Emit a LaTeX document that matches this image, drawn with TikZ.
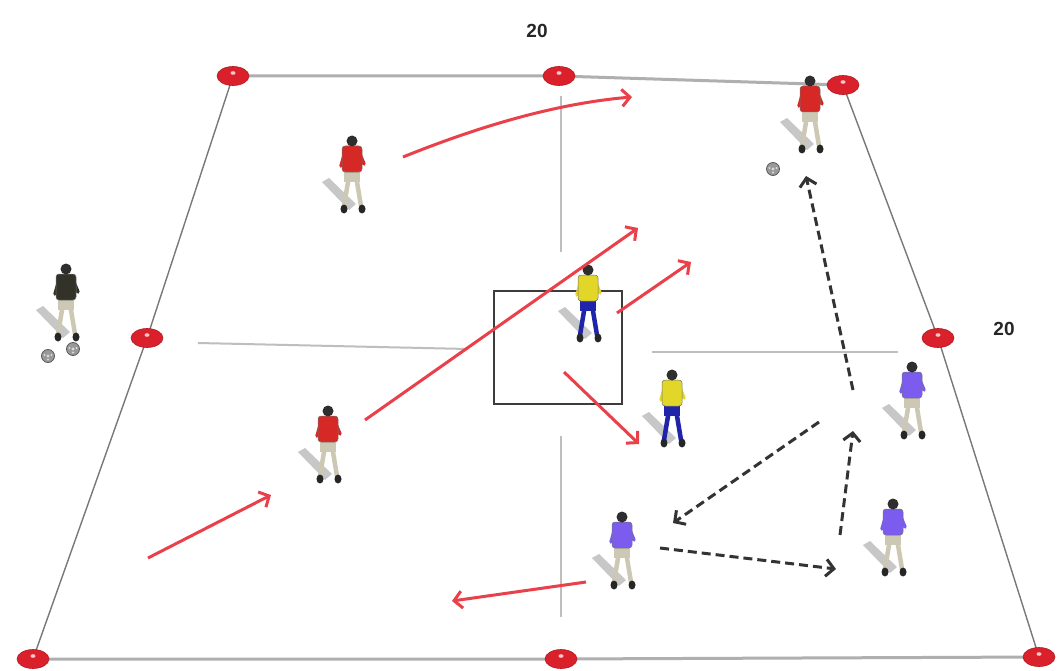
\documentclass[tikz,border=0pt]{standalone}
\usepackage{fontspec}
\setmainfont{Liberation Sans}
\usetikzlibrary{arrows.meta,shapes.geometric}
\definecolor{conered}{RGB}{218,32,42}
\definecolor{arrowred}{RGB}{234,64,74}
\definecolor{sidegray}{RGB}{120,120,120}
\definecolor{edgegray}{RGB}{175,175,175}
\definecolor{guidegray}{RGB}{190,190,190}
\definecolor{boxgray}{RGB}{60,60,60}
\definecolor{shirtred}{RGB}{214,40,36}
\definecolor{shirtyellow}{RGB}{226,214,40}
\definecolor{shirtblue}{RGB}{124,92,238}
\definecolor{shortsblue}{RGB}{32,36,170}
\definecolor{legpale}{RGB}{205,200,180}
\definecolor{shirtblack}{RGB}{50,50,40}
\tikzset{
  cone/.style={ellipse, fill=conered, draw=conered!80!black, line width=0.6pt,
    minimum width=32pt, minimum height=19pt, inner sep=0pt},
  sideline/.style={draw=sidegray, line width=1.4pt},
  edgeline/.style={draw=edgegray, line width=3pt},
  guideline/.style={draw=guidegray, line width=2pt},
  runarrow/.style={draw=arrowred, line width=3pt,
    -{Straight Barb[length=8pt,width=17pt,line width=3pt]}},
  passarrow/.style={draw=black!80, line width=3pt, dash pattern=on 9pt off 5pt,
    -{Straight Barb[length=8pt,width=17pt,line width=3pt]}},
  dist/.style={font=\bfseries\fontsize{19}{22}\selectfont, text=black!85},
  ballstyle/.style={circle, fill=black!40, draw=black!65, line width=0.8pt,
    minimum size=13pt, inner sep=0pt},
  pics/player/.style n args={3}{code={
    \fill[black!22] (-3,38) -- (-30,10) -- (-23,6) -- (4,32) -- cycle;
    \draw[#3, line width=4.5pt, line cap=round] (-3,4) -- (-8,34);
    \draw[#3, line width=4.5pt, line cap=round] (4,4) -- (9,34);
    \fill[#2] (-8,-2) rectangle (8,10);
    \fill[black!85] (-8,37) ellipse (3.5 and 4.5);
    \fill[black!85] (10,37) ellipse (3.5 and 4.5);
    \draw[#1, line width=3.5pt, line cap=round] (-7,-20) -- (-11,-6);
    \draw[#1, line width=3.5pt, line cap=round] (7,-20) -- (12,-8);
    \fill[#1, draw=black!55, line width=0.5pt, rounded corners=3pt] (-10,-26) rectangle (10,0);
    \fill[black!82] (0,-31) circle (5.5);
  }}
}
\begin{document}
\begin{tikzpicture}[x=1pt,y=-1pt]
\useasboundingbox (0,0) rectangle (1064,671);
\fill[white] (0,0) rectangle (1064,671);
% field corner and mid coordinates
\coordinate (tl) at (233,76);
\coordinate (tm) at (559,76);
\coordinate (tr) at (843,85);
\coordinate (ml) at (147,338);
\coordinate (mr) at (938,338);
\coordinate (bl) at (33,659);
\coordinate (bm) at (561,659);
\coordinate (br) at (1039,657);
% field outline
\draw[edgeline] (tl) -- (tm) -- (tr);
\draw[edgeline] (bl) -- (bm) -- (br);
\draw[sideline] (tl) -- (ml) -- (bl);
\draw[sideline] (tr) -- (mr) -- (br);
% guide lines
\coordinate (vt1) at (561,96);
\coordinate (vt2) at (561,252);
\coordinate (vb1) at (561,436);
\coordinate (vb2) at (561,617);
\coordinate (hl1) at (198,343);
\coordinate (hl2) at (468,349);
\coordinate (hr1) at (652,352);
\coordinate (hr2) at (898,352);
\draw[guideline] (vt1) -- (vt2);
\draw[guideline] (vb1) -- (vb2);
\draw[guideline] (hl1) -- (hl2);
\draw[guideline] (hr1) -- (hr2);
% central box
\node[draw=boxgray, line width=2.4pt, minimum width=128pt, minimum height=113pt, inner sep=0pt] (box) at (558,347.5) {};
% cones
\foreach \c in {tl,tm,tr,ml,mr,bl,bm,br}{
  \node[cone] (cone-\c) at (\c) {};
  \fill[white!75!conered] ([yshift=3pt]\c) ellipse (2.5 and 1.8);
}
% distance labels
\node[dist] (ltop) at (537,31) {20};
\node[dist] (lright) at (1004,329) {20};
% players
\pic at (352,172) {player={shirtred}{legpale}{legpale}};
\pic at (328,442) {player={shirtred}{legpale}{legpale}};
\pic at (810,112) {player={shirtred}{legpale}{legpale}};
\pic at (588,301) {player={shirtyellow}{shortsblue}{shortsblue}};
\pic at (672,406) {player={shirtyellow}{shortsblue}{shortsblue}};
\pic at (912,398) {player={shirtblue}{legpale}{legpale}};
\pic at (622,548) {player={shirtblue}{legpale}{legpale}};
\pic at (893,535) {player={shirtblue}{legpale}{legpale}};
\pic at (66,300) {player={shirtblack}{legpale}{legpale}};
% balls
\node[ballstyle] (ball1) at (48,356) {};
\node[ballstyle] (ball2) at (73,349) {};
\node[ballstyle] (ball3) at (773,169) {};
\foreach \b in {ball1,ball2,ball3}{
  \fill[white!85!black] (\b.center) circle (1.6);
  \fill[white!85!black] ([xshift=-3.5pt,yshift=1pt]\b.center) circle (1.2);
  \fill[white!85!black] ([xshift=3.5pt,yshift=1pt]\b.center) circle (1.2);
  \fill[white!85!black] ([yshift=-3.5pt]\b.center) circle (1.2);
}
% red runs
\coordinate (r1s) at (403,157);
\coordinate (r1e) at (632,97);
\coordinate (r2s) at (365,420);
\coordinate (r2e) at (638,228);
\coordinate (r3s) at (617,313);
\coordinate (r3e) at (691,262);
\coordinate (r4s) at (564,372);
\coordinate (r4e) at (639,444);
\coordinate (r5s) at (148,558);
\coordinate (r5e) at (271,495);
\coordinate (r6s) at (586,582);
\coordinate (r6e) at (452,601);
\draw[runarrow] (r1s) .. controls (470,130) and (550,104) .. (r1e);
\draw[runarrow] (r2s) -- (r2e);
\draw[runarrow] (r3s) -- (r3e);
\draw[runarrow] (r4s) -- (r4e);
\draw[runarrow] (r5s) -- (r5e);
\draw[runarrow] (r6s) -- (r6e);
% passes
\coordinate (p1s) at (853,390);
\coordinate (p1e) at (806,176);
\coordinate (p2s) at (819,422);
\coordinate (p2e) at (673,523);
\coordinate (p3s) at (660,548);
\coordinate (p3e) at (836,569);
\coordinate (p4s) at (840,535);
\coordinate (p4e) at (853,431);
\draw[passarrow] (p1s) -- (p1e);
\draw[passarrow] (p2s) -- (p2e);
\draw[passarrow] (p3s) -- (p3e);
\draw[passarrow] (p4s) -- (p4e);
\end{tikzpicture}
\end{document}
